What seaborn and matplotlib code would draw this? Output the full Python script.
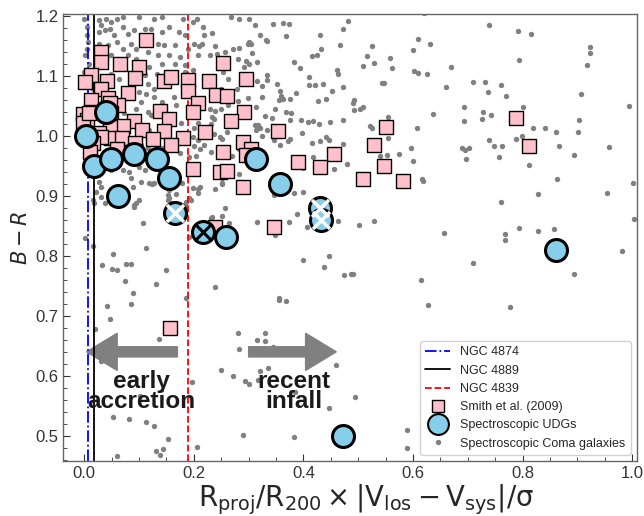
import numpy as np
import matplotlib
matplotlib.use('Agg')
import matplotlib.pyplot as plt
from matplotlib.lines import Line2D
from matplotlib.ticker import MultipleLocator
import seaborn as sns

# ── data ──────────────────────────────────────────────────────────
# Spectroscopic Coma galaxies (x, B-R)
coma_pts = [
    (0.620, 1.205), (0.739, 1.185), (0.792, 1.175), (0.815, 1.170), (0.923, 1.148), (0.923, 1.138),
    (0.918, 1.118), (0.793, 1.127), (0.525, 1.150), (0.609, 1.162), (0.631, 1.153), (0.600, 1.143),
    (0.516, 1.133), (0.559, 1.130), (0.528, 1.122), (0.508, 1.117), (0.561, 1.113), (0.669, 1.115),
    (0.601, 1.108), (0.609, 1.105), (0.625, 1.103), (0.543, 1.088), (0.547, 1.088), (0.660, 1.082),
    (0.709, 1.090), (0.731, 1.090), (0.761, 1.085), (0.737, 1.073), (0.770, 1.067), (0.907, 1.070),
    (0.995, 1.050), (0.492, 1.060), (0.490, 1.055), (0.508, 1.048), (0.503, 1.045), (0.492, 1.043),
    (0.636, 1.037), (0.693, 1.048), (0.801, 1.048), (0.728, 1.040), (0.742, 1.035), (0.726, 1.028),
    (0.693, 1.025), (0.554, 1.032), (0.521, 1.017), (0.525, 1.013), (0.607, 1.013), (0.819, 1.013),
    (0.841, 1.013), (0.861, 1.007), (0.901, 1.007), (0.903, 1.027), (0.554, 0.997), (0.739, 0.993),
    (0.748, 0.983), (0.762, 0.983), (0.788, 0.995), (0.799, 1.000), (0.867, 0.983), (0.958, 0.982),
    (0.894, 0.968), (0.757, 0.965), (0.812, 0.952), (0.689, 0.980), (0.702, 0.980), (0.697, 0.962),
    (0.695, 0.977), (0.596, 0.980), (0.574, 0.970), (0.552, 0.968), (0.539, 0.967), (0.600, 0.958),
    (0.616, 0.928), (0.618, 0.925), (0.863, 0.928), (1.002, 0.922), (0.954, 0.905), (0.828, 0.903),
    (0.761, 0.890), (1.004, 0.862), (0.501, 0.852), (0.528, 0.858), (0.656, 0.838), (0.768, 0.837),
    (0.768, 0.827), (0.793, 0.847), (0.828, 0.842), (0.857, 0.845),
    (0.982, 0.808), (0.894, 0.770), (0.709, 0.788), (0.490, 0.770), (0.614, 0.760), (0.627, 0.718),
    (0.777, 0.715),
    (0.042, 0.717), (0.086, 0.720), (0.046, 0.695), (0.020, 0.678), (0.137, 0.662), (0.031, 0.625),
    (0.102, 0.567), (0.053, 0.532), (0.082, 0.528), (0.113, 0.523), (0.128, 0.517), (0.152, 0.495),
    (0.144, 0.478), (0.130, 0.475), (0.139, 0.468), (0.059, 0.466), (0.196, 0.590), (0.205, 0.482),
    (0.280, 0.672), (0.329, 0.672), (0.316, 0.660), (0.329, 0.658), (0.344, 0.648), (0.283, 0.645),
    (0.250, 0.610), (0.271, 0.600), (0.293, 0.592), (0.300, 0.587), (0.320, 0.608), (0.335, 0.613),
    (0.318, 0.593), (0.384, 0.573), (0.459, 0.618), (0.446, 0.547), (0.494, 0.565), (0.289, 0.502),
    (0.382, 0.498), (0.369, 0.725), (0.355, 0.727), (0.589, 0.510), (0.589, 0.480),
    (0.108, 0.855), (0.002, 0.830), (0.016, 0.817), (0.053, 0.803), (0.112, 0.813), (0.033, 0.785),
    (0.051, 0.778), (0.060, 0.777), (0.077, 0.787), (0.086, 0.787), (0.150, 0.777), (0.075, 0.758),
    (0.130, 0.753), (0.088, 0.738), (0.186, 0.730), (0.192, 0.832), (0.238, 0.748), (0.265, 0.855),
    (0.316, 0.857), (0.349, 0.835), (0.373, 0.857), (0.400, 0.793), (0.437, 0.782), (0.446, 0.800),
    (0.475, 0.768), (0.486, 0.770), (0.356, 0.730), (0.406, 0.848), (0.463, 0.858),
    (0.088, 0.915), (0.119, 0.922), (0.124, 0.920), (0.179, 0.922), (0.152, 0.902), (0.152, 0.893),
    (0.168, 0.903), (0.095, 0.888), (0.090, 0.885), (0.183, 0.885), (0.194, 0.893), (0.207, 0.912),
    (0.212, 0.915), (0.239, 0.912), (0.252, 0.922), (0.256, 0.880), (0.252, 0.867), (0.232, 0.863),
    (0.388, 0.870), (0.347, 0.902), (0.382, 0.905), (0.399, 0.907),
    (0.205, 1.195), (0.267, 1.198), (0.283, 1.195), (0.300, 1.195), (0.311, 1.185), (0.344, 1.187),
    (0.362, 1.188), (0.373, 1.187), (0.216, 1.182), (0.218, 1.168), (0.234, 1.172), (0.320, 1.168),
    (0.369, 1.167), (0.305, 1.153), (0.298, 1.153), (0.300, 1.157), (0.331, 1.160), (0.333, 1.158),
    (0.283, 1.147), (0.239, 1.150), (0.214, 1.153), (0.210, 1.150), (0.207, 1.135), (0.229, 1.135),
    (0.243, 1.137), (0.256, 1.140), (0.307, 1.138), (0.271, 1.145), (0.280, 1.128), (0.296, 1.125),
    (0.300, 1.120), (0.291, 1.115), (0.316, 1.123), (0.382, 1.123), (0.393, 1.113), (0.431, 1.168),
    (0.473, 1.178), (0.481, 1.192), (0.466, 1.152), (0.433, 1.145), (0.424, 1.135), (0.415, 1.133),
    (0.461, 1.110), (0.464, 1.103), (0.473, 1.082), (0.452, 1.075), (0.442, 1.062), (0.426, 1.058),
    (0.410, 1.098), (0.411, 1.085), (0.422, 1.085), (0.435, 1.087), (0.386, 1.072), (0.375, 1.062),
    (0.358, 1.075), (0.360, 1.067), (0.362, 1.062), (0.355, 1.060), (0.351, 1.087), (0.349, 1.045),
    (0.369, 1.040), (0.378, 1.038), (0.333, 1.093), (0.333, 1.102), (0.316, 1.092), (0.325, 1.083),
    (0.325, 1.065), (0.305, 1.090), (0.278, 1.078), (0.263, 1.095), (0.254, 1.107), (0.249, 1.078),
    (0.298, 1.063), (0.280, 1.058), (0.263, 1.052), (0.250, 1.045), (0.230, 1.045), (0.238, 1.042),
    (0.234, 1.032), (0.236, 1.028), (0.232, 1.020), (0.314, 1.048), (0.329, 1.033), (0.342, 1.030),
    (0.375, 1.027), (0.395, 1.027), (0.408, 1.023), (0.428, 1.020), (0.417, 1.025), (0.448, 1.023),
    (0.472, 1.027), (0.311, 1.018), (0.320, 1.013), (0.318, 1.018), (0.314, 1.010), (0.333, 1.010),
    (0.397, 1.005), (0.371, 0.992), (0.375, 0.995), (0.358, 0.985), (0.346, 0.993), (0.325, 1.000),
    (0.280, 0.993), (0.260, 1.007), (0.247, 0.998), (0.236, 1.003), (0.252, 0.995), (0.207, 0.993),
    (0.219, 0.985), (0.212, 0.978), (0.201, 0.983), (0.232, 0.973), (0.269, 0.967), (0.282, 0.978),
    (0.203, 0.967), (0.415, 0.988), (0.430, 0.992), (0.442, 0.998), (0.446, 0.993), (0.472, 0.987),
    (0.417, 0.965), (0.400, 0.947), (0.455, 0.945), (0.479, 0.953), (0.283, 0.937), (0.252, 0.930),
    (0.252, 0.920), (0.234, 0.865),
    (0.000, 1.195), (0.004, 1.182), (0.005, 1.168), (0.007, 1.157), (0.004, 1.145), (0.002, 1.135),
    (0.009, 1.120), (0.000, 1.107), (0.026, 1.193), (0.031, 1.185), (0.040, 1.195), (0.049, 1.190),
    (0.059, 1.195), (0.071, 1.198), (0.099, 1.198), (0.128, 1.195), (0.141, 1.198), (0.181, 1.195),
    (0.199, 1.190), (0.027, 1.173), (0.037, 1.177), (0.046, 1.178), (0.055, 1.168), (0.071, 1.182),
    (0.080, 1.170), (0.091, 1.177), (0.110, 1.178), (0.122, 1.178), (0.141, 1.173), (0.154, 1.182),
    (0.172, 1.173), (0.183, 1.168), (0.026, 1.153), (0.044, 1.152), (0.059, 1.157), (0.071, 1.145),
    (0.086, 1.153), (0.095, 1.145), (0.080, 1.135), (0.049, 1.135), (0.062, 1.128), (0.135, 1.153),
    (0.146, 1.152), (0.165, 1.152), (0.190, 1.145), (0.201, 1.153), (0.155, 1.135), (0.174, 1.132),
    (0.135, 1.135), (0.117, 1.140), (0.095, 1.128), (0.141, 1.120), (0.165, 1.120), (0.183, 1.118),
    (0.119, 1.115), (0.110, 1.102), (0.132, 1.103), (0.183, 1.107), (0.199, 1.110), (0.049, 1.103),
    (0.064, 1.095), (0.117, 1.087), (0.128, 1.078), (0.113, 1.070), (0.128, 1.065), (0.141, 1.057),
    (0.163, 1.065), (0.168, 1.052), (0.104, 1.057), (0.095, 1.045), (0.117, 1.040), (0.016, 1.078),
    (0.018, 1.068), (0.009, 1.053), (0.026, 1.052), (0.099, 1.073),
    (0.073, 1.038), (0.122, 1.035), (0.119, 1.010), (0.141, 1.005), (0.201, 1.013), (0.208, 1.022),
    (0.177, 1.022), (0.037, 0.988), (0.104, 0.985), (0.117, 0.980), (0.141, 0.980), (0.174, 0.972),
    (0.192, 0.965), (0.049, 0.943), (0.071, 0.943), (0.082, 0.940), (0.099, 0.948), (0.119, 0.952),
    (0.110, 0.943), (0.086, 0.930), (0.104, 0.923), (0.128, 0.922), (0.027, 0.923), (0.031, 0.915),
    (0.018, 0.935), (0.022, 0.907), (0.031, 0.898), (0.037, 0.888), (0.199, 0.913), (0.192, 0.897),
    (0.186, 0.890), (0.099, 0.893), (0.091, 0.882), (0.159, 0.888), (0.154, 0.897), (0.154, 0.910),
    (0.018, 0.888), (0.016, 0.893), (0.208, 0.905), (0.199, 0.998),
]
coma_x = [p[0] for p in coma_pts]
coma_y = [p[1] for p in coma_pts]

# Smith et al. (2009)
smith_x = [0.113, 0.031, 0.031, 0.066, 0.099, 0.013, 0.002, 0.042, 0.093, 0.146, 0.159, 0.190,
           0.227, 0.254, 0.296, 0.031, 0.190, 0.080, 0.241, 0.261, 0.044, 0.013, 0.062, 0.208,
           0.046, 0.013, -0.002, 0.139, 0.199, 0.291, 0.155, 0.090, 0.267, 0.049, 0.004, -0.002,
           0.071, 0.046, 0.106, 0.146, 0.221, 0.353, 0.027, 0.049, 0.068, 0.126, 0.181, 0.031,
           0.093, 0.159, 0.015, 0.289, 0.060, 0.011, 0.305, 0.254, 0.296, 0.455, 0.199, 0.391,
           0.431, 0.247, 0.261, 0.289, 0.347, 0.239, 0.550, 0.528, 0.547, 0.508, 0.581, 0.788,
           0.812, 0.157, 0.009]
smith_y = [1.160, 1.140, 1.123, 1.120, 1.115, 1.102, 1.090, 1.092, 1.097, 1.092, 1.098, 1.093,
           1.092, 1.122, 1.095, 1.078, 1.075, 1.072, 1.068, 1.067, 1.063, 1.060, 1.052, 1.055,
           1.055, 1.040, 1.037, 1.042, 1.040, 1.040, 1.028, 1.025, 1.025, 1.038, 1.027, 1.022,
           1.017, 1.015, 1.010, 1.008, 1.007, 1.008, 1.005, 0.997, 0.997, 0.995, 0.997, 0.998,
           0.988, 0.985, 0.988, 0.990, 0.978, 0.973, 0.978, 0.973, 0.968, 0.970, 0.945, 0.957,
           0.948, 0.940, 0.942, 0.915, 0.848, 0.848, 1.015, 0.985, 0.950, 0.928, 0.925, 1.030,
           0.983, 0.680, 1.038]

# Spectroscopic UDGs
udg_x = [0.003, 0.040, 0.018, 0.048, 0.091, 0.132, 0.154, 0.062, 0.314, 0.358,
         0.166, 0.216, 0.258, 0.430, 0.433, 0.861, 0.472]
udg_y = [1.000, 1.040, 0.950, 0.962, 0.970, 0.962, 0.930, 0.900, 0.962, 0.920,
         0.872, 0.840, 0.832, 0.880, 0.860, 0.810, 0.500]
# UDGs flagged with a cross
cross_white_x = [0.166, 0.430, 0.433]
cross_white_y = [0.872, 0.880, 0.860]
cross_black_x = [0.216]
cross_black_y = [0.840]

# BCG positions
bcg_names = ['NGC 4874', 'NGC 4889', 'NGC 4839']
bcg_x = [0.007, 0.018, 0.190]

# ── style ─────────────────────────────────────────────────────────
sns.set_style('ticks')
plt.rcParams['font.family'] = ['Liberation Sans', 'DejaVu Sans']
plt.rcParams['mathtext.fontset'] = 'dejavusans'

fig = plt.figure(figsize=(6.44, 5.16), dpi=100)
ax = fig.add_axes([0.0986, 0.1066, 0.8905, 0.8663])

GREY = '#808080'

sns.scatterplot(x=coma_x, y=coma_y, color=GREY, s=15, linewidth=0, zorder=1, ax=ax)

bcg_styles = [('blue', '-.'), ('black', '-'), ('red', '--')]
for xv, (c, ls) in zip(bcg_x, bcg_styles):
    ax.axvline(xv, color=c, ls=ls, lw=1.3, zorder=2)

sns.scatterplot(x=smith_x, y=smith_y, marker='s', color='pink', edgecolor='black',
                s=90, linewidth=1, zorder=3, ax=ax)
sns.scatterplot(x=udg_x, y=udg_y, marker='o', color='skyblue', edgecolor='black',
                s=250, linewidth=2.2, zorder=4, ax=ax)
sns.scatterplot(x=cross_white_x, y=cross_white_y, marker='x', color='white',
                s=150, linewidth=2.5, zorder=5, ax=ax)
sns.scatterplot(x=cross_black_x, y=cross_black_y, marker='x', color='black',
                s=150, linewidth=2.2, zorder=5, ax=ax)

# arrows + annotations
ax.arrow(0.170, 0.640, -0.110, 0, width=0.017, head_width=0.062, head_length=0.056,
         color=GREY, length_includes_head=False, zorder=1.5)
ax.arrow(0.300, 0.640, 0.104, 0, width=0.017, head_width=0.062, head_length=0.056,
         color=GREY, length_includes_head=False, zorder=1.5)
ax.text(0.104, 0.574, 'early\naccretion', ha='center', va='center', fontsize=17.5,
        fontweight='bold', color='#1a1a1a', linespacing=0.85, zorder=6)
ax.text(0.382, 0.574, 'recent\ninfall', ha='center', va='center', fontsize=17.5,
        fontweight='bold', color='#1a1a1a', linespacing=0.85, zorder=6)

ax.set_xlim(-0.038, 1.009)
ax.set_ylim(0.458, 1.2033)
ax.xaxis.set_major_locator(MultipleLocator(0.2))
ax.xaxis.set_minor_locator(MultipleLocator(0.05))
ax.yaxis.set_major_locator(MultipleLocator(0.1))
ax.yaxis.set_minor_locator(MultipleLocator(0.02))
ax.tick_params(which='both', direction='in', labelsize=12, colors='#333333')
ax.tick_params(which='major', length=5)
ax.tick_params(which='minor', length=3)
for sp in ax.spines.values():
    sp.set_color('#666666')
    sp.set_linewidth(1.0)

ax.set_xlabel(r'$\mathrm{R_{proj}/R_{200}\times|V_{los}-V_{sys}|/\sigma}$', fontsize=19.8)
ax.xaxis.set_label_coords(0.528, -0.048)
ax.set_ylabel(r'$B-R$', fontsize=15, labelpad=3)

handles = [
    Line2D([], [], color='blue', ls='-.', lw=1.3),
    Line2D([], [], color='black', ls='-', lw=1.3),
    Line2D([], [], color='red', ls='--', lw=1.3),
    Line2D([], [], marker='s', ls='', markerfacecolor='pink', markeredgecolor='black', markersize=8),
    Line2D([], [], marker='o', ls='', markerfacecolor='skyblue', markeredgecolor='black',
           markersize=15, markeredgewidth=1.5),
    Line2D([], [], marker='o', ls='', color=GREY, markersize=3.9, markeredgewidth=0),
]
labels = bcg_names + ['Smith et al. (2009)', 'Spectroscopic UDGs', 'Spectroscopic Coma galaxies']
ax.legend(handles, labels, loc='lower right', fontsize=9, frameon=True, framealpha=0.9)

fig.savefig('out.png', dpi=100)
